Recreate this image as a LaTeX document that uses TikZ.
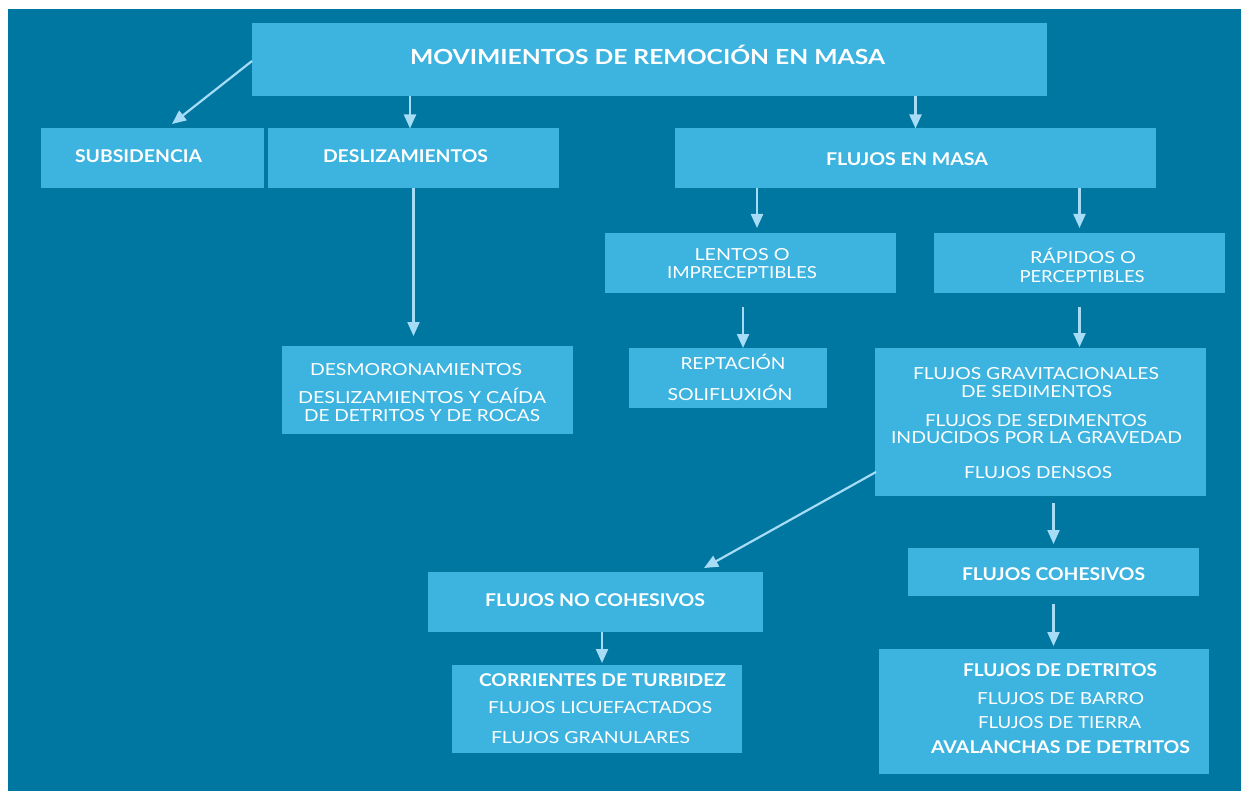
\documentclass[tikz,border=0pt]{standalone}
\usepackage{fontspec}
\setmainfont{Lato}
\usetikzlibrary{arrows.meta,calc}
\definecolor{bgc}{RGB}{0,119,161}
\definecolor{boxc}{RGB}{61,180,223}
\definecolor{arrc}{RGB}{166,220,245}
\newlength\fitlen
\newcommand\fitto[2]{\settowidth{\fitlen}{#2}\pgfmathsetmacro\fitr{#1/\fitlen}\scalebox{\fitr}[1]{#2}}
\tikzset{
  box/.style={fill=boxc, draw=none, inner sep=0pt, outer sep=0pt, rectangle},
  txt/.style={text=white, inner sep=0pt, anchor=base, font=\fontsize{16.6}{18}\selectfont},
  btxt/.style={text=white, inner sep=0pt, anchor=base, font=\fontsize{17.6}{19}\selectfont\bfseries},
  arr/.style={draw=arrc, line width=2.2pt, -{Triangle[width=12pt,length=14pt]}}
}
\begin{document}
\begin{tikzpicture}[x=1pt,y=-1pt]
\useasboundingbox (0,0) rectangle (1241,791);
\fill[white] (0,0) rectangle (1241,791);
\fill[bgc] (8,9) rectangle (1241,791);
% boxes
\node[box, minimum width=795pt, minimum height=73pt] (main) at (649.5,59.5) {};
\node[box, minimum width=223pt, minimum height=60pt] (sub) at (152.5,158.5) {};
\node[box, minimum width=291pt, minimum height=60pt] (desl) at (413.5,158.5) {};
\node[box, minimum width=481pt, minimum height=60pt] (fem) at (915.5,158.5) {};
\node[box, minimum width=291pt, minimum height=60pt] (lentos) at (750.5,263) {};
\node[box, minimum width=291pt, minimum height=60pt] (rap) at (1079.5,263) {};
\node[box, minimum width=291pt, minimum height=88pt] (desmor) at (427.5,390) {};
\node[box, minimum width=198pt, minimum height=60pt] (rept) at (728,378) {};
\node[box, minimum width=331pt, minimum height=148pt] (fg) at (1040.5,422) {};
\node[box, minimum width=335pt, minimum height=60pt] (fnc) at (595.5,602) {};
\node[box, minimum width=291pt, minimum height=48pt] (fc) at (1053.5,572) {};
\node[box, minimum width=290pt, minimum height=88pt] (corr) at (597,709) {};
\node[box, minimum width=330pt, minimum height=125pt] (fd) at (1044,711.5) {};
% texts (baseline = cap centre + 6)
\node[btxt, font=\fontsize{20.8}{22}\selectfont\bfseries] (maint) at (647.5,64.8) {\fitto{475}{MOVIMIENTOS DE REMOCIÓN EN MASA}};
\node[btxt] (subt) at (138.5,162.3) {\fitto{127}{SUBSIDENCIA}};
\node[btxt] (deslt) at (405.5,162.3) {\fitto{165}{DESLIZAMIENTOS}};
\node[btxt] (femt) at (907,165.3) {\fitto{162}{FLUJOS EN MASA}};
\node[txt] (lent1) at (742,261) {\fitto{95}{LENTOS O}};
\node[txt] (lent2) at (742,279) {\fitto{150}{IMPRECEPTIBLES}};
\node[txt] (rap1) at (1083,264) {\fitto{106}{RÁPIDOS O}};
\node[txt] (rap2) at (1082,283) {\fitto{125}{PERCEPTIBLES}};
\node[txt] (dm1) at (416,375) {\fitto{212}{DESMORONAMIENTOS}};
\node[txt] (dm2) at (422,403) {\fitto{248}{DESLIZAMIENTOS Y CAÍDA}};
\node[txt] (dm3) at (422,421) {\fitto{236}{DE DETRITOS Y DE ROCAS}};
\node[txt] (rp1) at (733,369) {\fitto{105}{REPTACIÓN}};
\node[txt] (rp2) at (730,400) {\fitto{125}{SOLIFLUXIÓN}};
\node[txt] (fg1) at (1036,379) {\fitto{246}{FLUJOS GRAVITACIONALES}};
\node[txt] (fg2) at (1036.5,397) {\fitto{151}{DE SEDIMENTOS}};
\node[txt] (fg3) at (1036,426) {\fitto{222}{FLUJOS DE SEDIMENTOS}};
\node[txt] (fg4) at (1036.5,443) {\fitto{291}{INDUCIDOS POR LA GRAVEDAD}};
\node[txt] (fg5) at (1038,478) {\fitto{148}{FLUJOS DENSOS}};
\node[btxt] (fnct) at (595,606.3) {\fitto{220}{FLUJOS NO COHESIVOS}};
\node[btxt] (fct) at (1053.5,580.3) {\fitto{183}{FLUJOS COHESIVOS}};
\node[btxt] (co1) at (602.5,686.3) {\fitto{247}{CORRIENTES DE TURBIDEZ}};
\node[txt] (co2) at (600,713) {\fitto{224}{FLUJOS LICUEFACTADOS}};
\node[txt] (co3) at (590.5,743) {\fitto{199}{FLUJOS GRANULARES}};
\node[btxt] (fd1) at (1060,676.3) {\fitto{194}{FLUJOS DE DETRITOS}};
\node[txt] (fd2) at (1060.5,704) {\fitto{167}{FLUJOS DE BARRO}};
\node[txt] (fd3) at (1059.5,728) {\fitto{163}{FLUJOS DE TIERRA}};
\node[btxt] (fd4) at (1060.5,753.3) {\fitto{259}{AVALANCHAS DE DETRITOS}};
% arrow helper coordinates
\coordinate (t1) at (172,124);
\coordinate (s1) at (252,61);
\coordinate (t2) at (410,128.5);
\coordinate (t4) at (757,228);
\coordinate (s7) at (743,307);
\coordinate (s9) at (876,472);
\coordinate (t9) at (704,568);
\coordinate (s11) at (602,632);
% arrows
\draw[arr] (s1) -- (t1);
\draw[arr] (main.south -| t2) -- (t2);
\draw[arr] (main.south -| fem.north) -- (fem.north);
\draw[arr] (fem.south -| t4) -- (t4);
\draw[arr] (fem.south -| rap.north) -- ($(rap.north)+(0,-5)$);
\draw[arr] (desl.south) -- ($(desl.south |- desmor.north)+(0,-10)$);
\draw[arr] (s7) -- (s7 |- rept.north);
\draw[arr] ($(rap.south)+(0,14)$) -- ($(rap.south |- fg.north)+(0,-1)$);
\draw[arr] (s9) -- (t9);
\draw[arr] ($(fc.north)+(0,-45)$) -- ($(fc.north)+(0,-4)$);
\draw[arr] (s11) -- ($(s11 |- corr.north)+(0,-2)$);
\draw[arr] ($(fc.south)+(0,8)$) -- ($(fc.south |- fd.north)+(0,-3)$);
\end{tikzpicture}
\end{document}
